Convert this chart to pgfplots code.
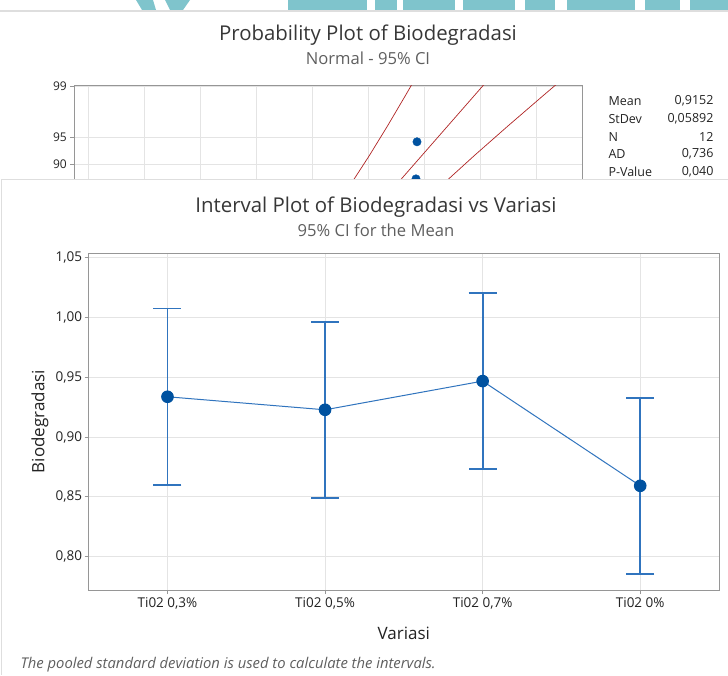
\documentclass[border=0pt]{standalone}
\usepackage{pgfplots}
\pgfplotsset{compat=1.18}
\usepackage{fontspec}
\setmainfont{Open Sans}
\definecolor{ebblue}{RGB}{48,116,190}
\definecolor{mkblue}{RGB}{0,82,160}
\definecolor{gridgray}{RGB}{228,228,228}
\definecolor{framegray}{RGB}{150,150,150}
\definecolor{ttl}{RGB}{55,55,55}
\definecolor{subc}{RGB}{95,95,95}
\definecolor{tealc}{RGB}{127,196,204}
\definecolor{cired}{RGB}{175,35,35}
\definecolor{panelc}{RGB}{222,222,222}
\definecolor{txt}{RGB}{35,35,35}
\begin{document}
\begin{tikzpicture}
\useasboundingbox (0pt,0pt) rectangle (728pt,-675pt);
% banner fragments
\fill[tealc] (136pt,0pt) -- (153pt,0pt) -- (156pt,-10pt) -- (142pt,-10pt) -- cycle;
\fill[tealc] (165pt,0pt) -- (190pt,0pt) -- (183pt,-10pt) -- (170pt,-10pt) -- cycle;
\fill[tealc] (288pt,0pt) rectangle (367pt,-10pt);
\fill[tealc] (375pt,0pt) rectangle (397pt,-10pt);
\fill[tealc] (403pt,0pt) rectangle (455pt,-10pt);
\fill[tealc] (463pt,0pt) rectangle (515pt,-10pt);
\fill[tealc] (525pt,0pt) rectangle (555pt,-10pt);
\fill[tealc] (567pt,0pt) rectangle (635pt,-10pt);
\fill[tealc] (645pt,0pt) rectangle (680pt,-10pt);
\fill[tealc] (690pt,0pt) rectangle (728pt,-10pt);
\draw[panelc, line width=1.2pt] (0pt,-11pt) -- (728pt,-11pt);
% probability plot titles
\node[text=ttl, font=\fontsize{20.4}{24}\selectfont] at (368pt,-35pt) {Probability Plot of Biodegradasi};
\node[text=subc, font=\fontsize{16.6}{19}\selectfont] at (368pt,-58pt) {Normal - 95\% CI};
\begin{axis}[
  at={(74.3pt,-85.7pt)}, anchor=north west, scale only axis,
  width=508.4pt, height=104.3pt,
  xmin=0.687, xmax=1.1417, ymin=0.945, ymax=2.33,
  xtick={0.70,0.75,0.80,0.85,0.90,0.95,1.00,1.05,1.10}, xticklabels={},
  ytick={1.2816,1.6449,2.3263}, yticklabels={90,95,99},
  xtick pos=bottom, ytick pos=left,
  tick align=outside, major tick length=4pt,
  tick style={framegray, line width=0.8pt},
  grid=major, grid style={gridgray, line width=0.8pt},
  axis line style={framegray, line width=1pt},
  tick label style={font=\fontsize{12}{14}\selectfont, text=txt},
  /pgf/number format/assume math mode=true,
  clip=true,
]
\addplot[cired, line width=0.7pt] coordinates {(0.9333,1.0) (0.95078,1.4) (0.9673,1.8) (0.98317,2.2) (0.99095,2.4)};
\addplot[cired, line width=0.7pt] coordinates {(0.97412,1.0) (0.99769,1.4) (1.02126,1.8) (1.04482,2.2) (1.05661,2.4)};
\addplot[cired, line width=0.7pt] coordinates {(1.0150,1.0) (1.04460,1.4) (1.0752,1.8) (1.10647,2.2) (1.12227,2.4)};
\addplot[only marks, mark=*, mark size=4.2pt, mark options={fill=mkblue, draw=mkblue}] coordinates {(0.9935,1.585) (0.9926,1.093)};
\end{axis}
% stats box
\begin{scope}[font=\fontsize{12.5}{14}\selectfont, text=txt]
\node[anchor=west] at (605pt,-101pt) {Mean};
\node[anchor=east] at (717pt,-101pt) {0,9152};
\node[anchor=west] at (605pt,-119pt) {StDev};
\node[anchor=east] at (717pt,-119pt) {0,05892};
\node[anchor=west] at (605pt,-137pt) {N};
\node[anchor=east] at (717pt,-137pt) {12};
\node[anchor=west] at (605pt,-154pt) {AD};
\node[anchor=east] at (717pt,-154pt) {0,736};
\node[anchor=west] at (605pt,-172pt) {P-Value};
\node[anchor=east] at (717pt,-172pt) {0,040};
\end{scope}
% overlay panel
\fill[white] (0pt,-179.3pt) rectangle (728pt,-675pt);
\draw[panelc, line width=1.2pt] (728pt,-179.3pt) -- (1.5pt,-179.3pt) -- (1.5pt,-675pt);
\node[text=ttl, font=\fontsize{20.4}{24}\selectfont] at (376pt,-207pt) {Interval Plot of Biodegradasi vs Variasi};
\node[text=subc, font=\fontsize{16.6}{19}\selectfont] at (376pt,-230pt) {95\% CI for the Mean};
\begin{axis}[
  at={(88.7pt,-590pt)}, anchor=south west, scale only axis,
  width=630.3pt, height=337pt,
  xmin=-0.5, xmax=3.5, ymin=0.772, ymax=1.054,
  xtick={0,1,2,3},
  xticklabels={{Ti02 0,3\%},{Ti02 0,5\%},{Ti02 0,7\%},{Ti02 0\%}},
  ytick={0.80,0.85,0.90,0.95,1.00,1.05},
  yticklabels={{0,80},{0,85},{0,90},{0,95},{1,00},{1,05}},
  xtick pos=bottom, ytick pos=left,
  tick align=outside, major tick length=4pt,
  tick style={framegray, line width=0.8pt},
  grid=major, grid style={gridgray, line width=0.8pt},
  axis line style={framegray, line width=1pt},
  tick label style={font=\fontsize{13.5}{15}\selectfont, text=txt},
  yticklabel style={xshift=1pt},
  /pgf/number format/assume math mode=true,
  xlabel={Variasi}, ylabel={Biodegradasi},
  label style={font=\fontsize{17}{19}\selectfont, text=txt},
  xlabel style={at={(axis description cs:0.5,-0.1276)}, anchor=center},
  ylabel style={at={(axis description cs:-0.0773,0.5)}, anchor=center},
]
\addplot[draw=none, mark=none,
  error bars/.cd, y dir=both, y explicit,
  error bar style={ebblue, line width=1.8pt},
  error mark options={rotate=90, mark size=14pt, ebblue, line width=1.8pt}]
  coordinates {(0,0.9337) +- (0,0.0738) (1,0.9228) +- (0,0.0738) (2,0.9468) +- (0,0.0738) (3,0.8592) +- (0,0.0738)};
\addplot[ebblue, line width=1pt, mark=*, mark size=5.8pt, mark options={fill=mkblue, draw=mkblue}]
  coordinates {(0,0.9337) (1,0.9228) (2,0.9468) (3,0.8592)};
\end{axis}
\node[anchor=west, text=subc, font=\itshape\fontsize{14.8}{17}\selectfont] at (17pt,-665pt) {The pooled standard deviation is used to calculate the intervals.};
\end{tikzpicture}
\end{document}
